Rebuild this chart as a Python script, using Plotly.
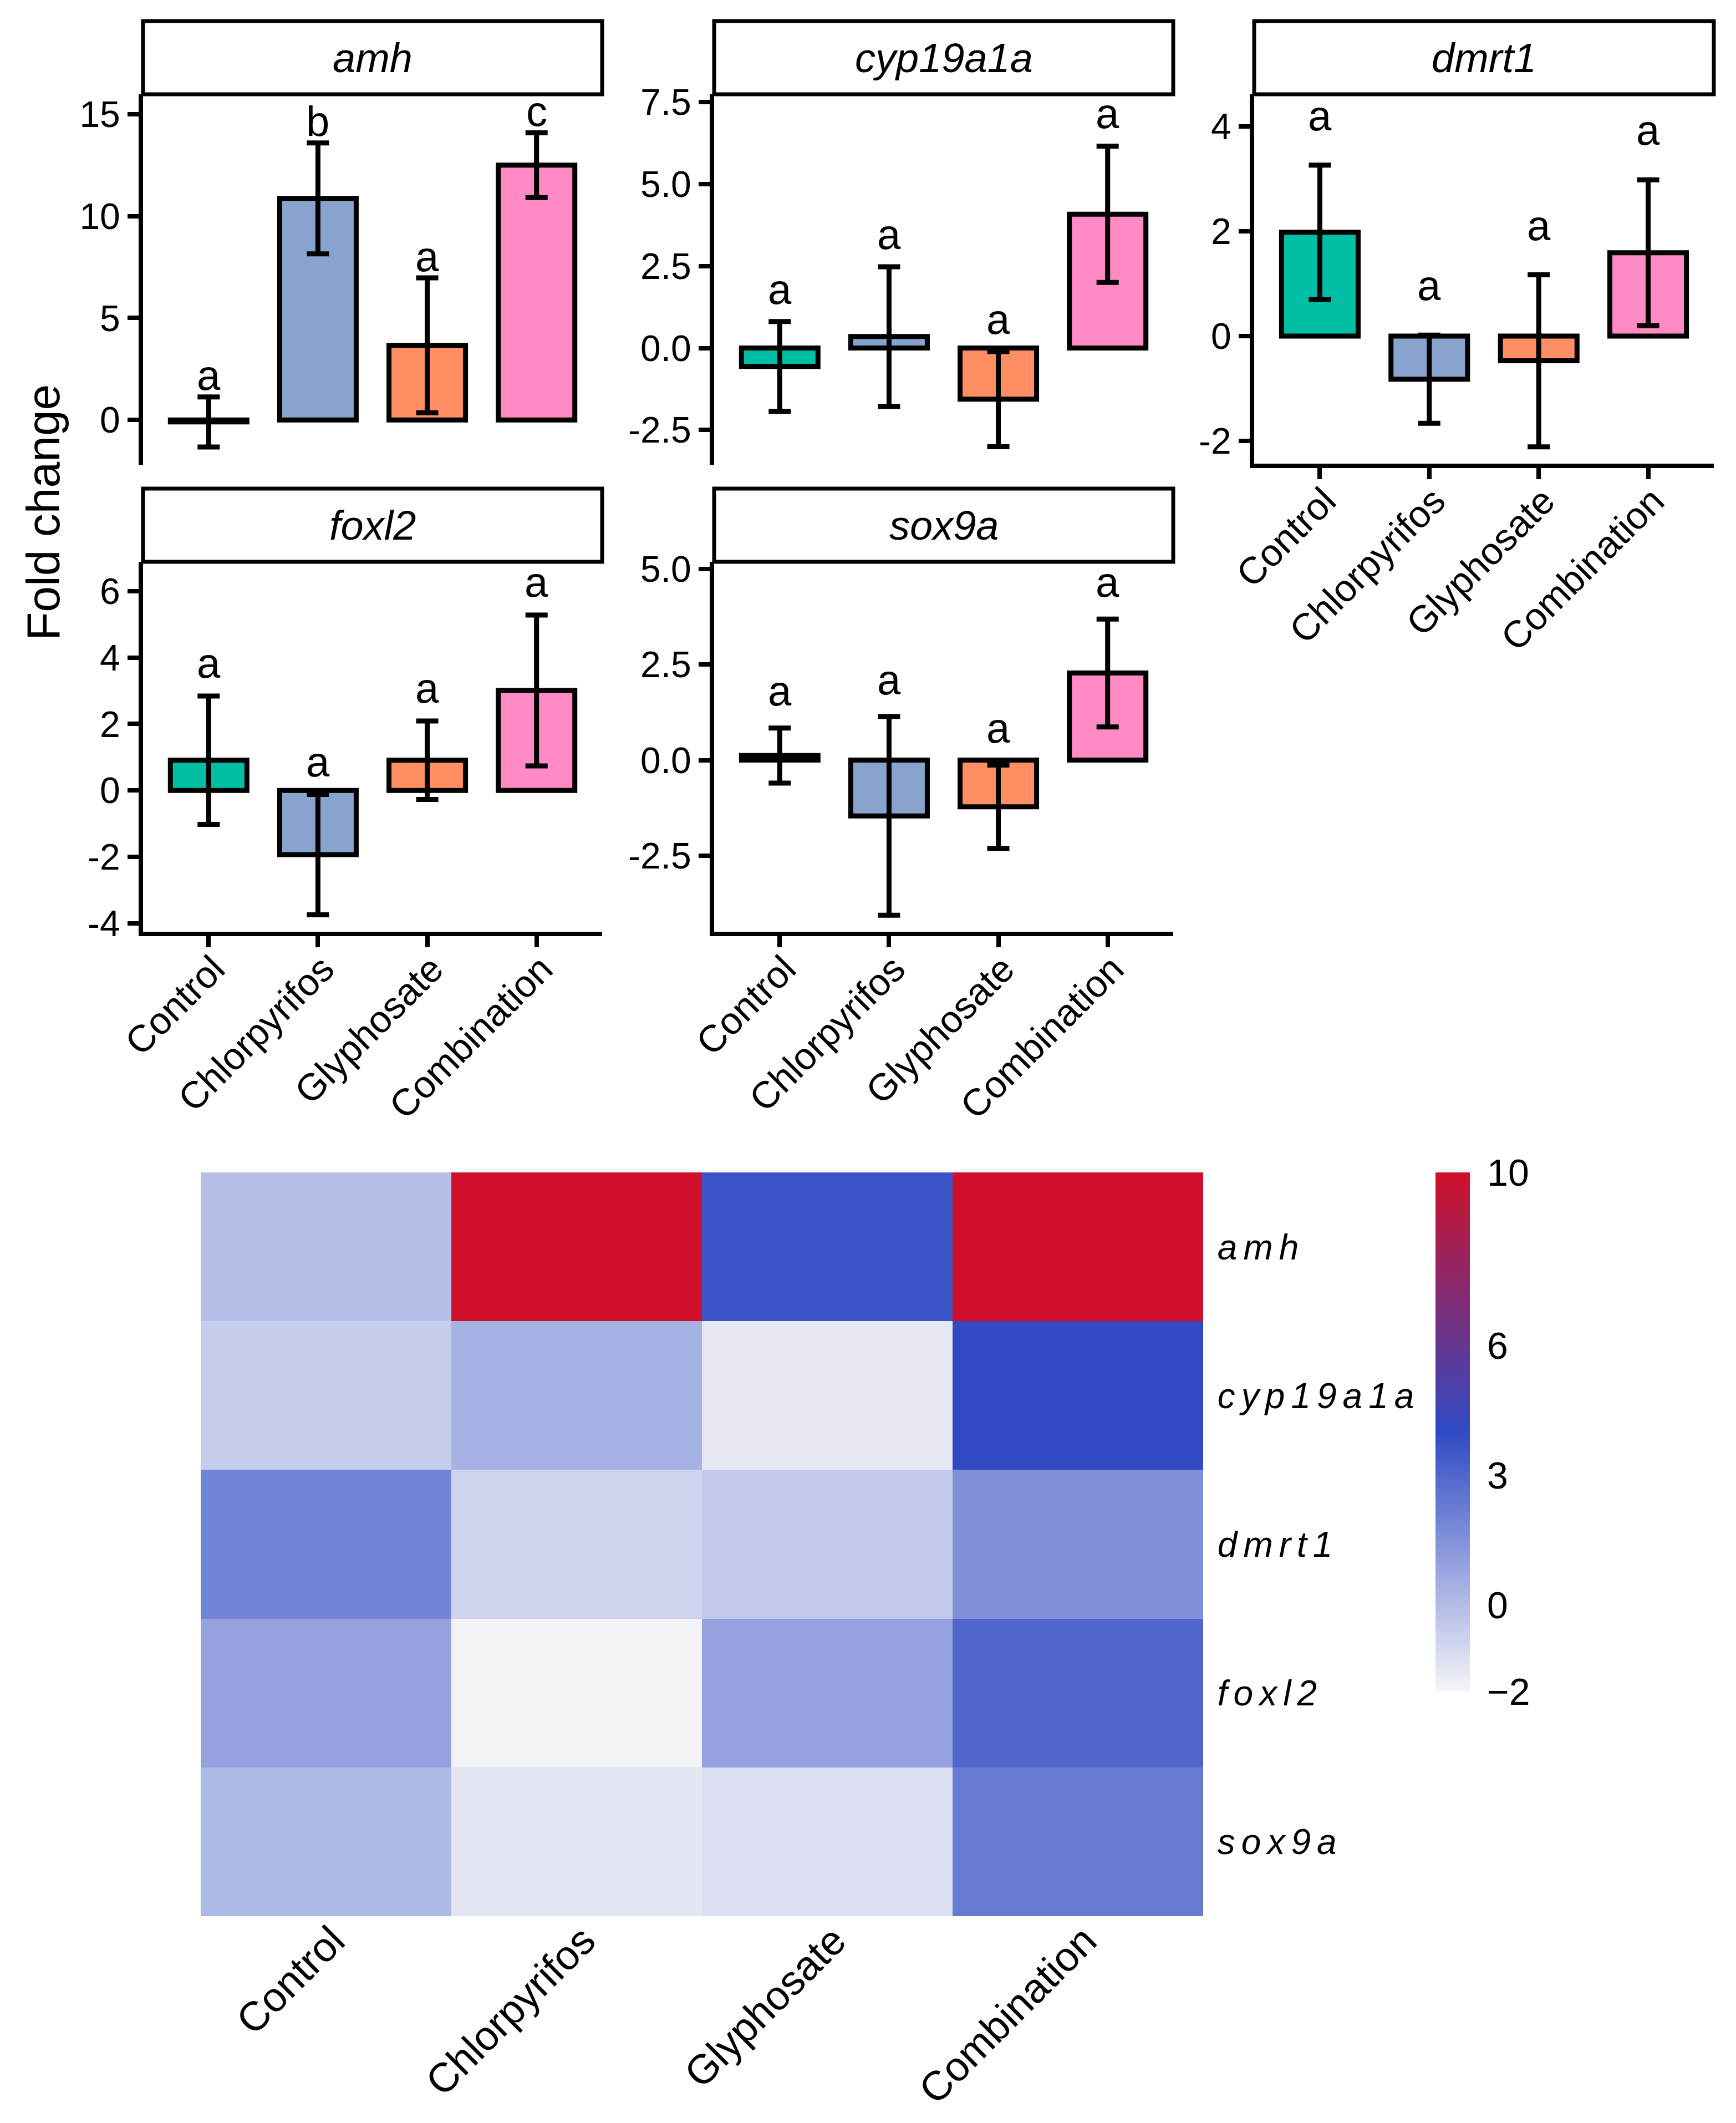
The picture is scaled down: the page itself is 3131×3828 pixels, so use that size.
import plotly.graph_objects as go

W, H = 3131, 3828
OFF = 8  # page body margin, positions below are page pixels
FONT = "Liberation Sans, Arial, Helvetica, sans-serif"

groups = ["Control", "Chlorpyrifos", "Glyphosate", "Combination"]
genes = ["amh", "cyp19a1a", "dmrt1", "foxl2", "sox9a"]

# mean fold change and sd per group
amh_mean = [-0.1, 10.87, 3.66, 12.5]
amh_sd = [1.23, 2.72, 3.31, 1.59]
cyp19a1a_mean = [-0.56, 0.35, -1.56, 4.08]
cyp19a1a_sd = [1.37, 2.13, 1.45, 2.08]
dmrt1_mean = [1.98, -0.82, -0.47, 1.59]
dmrt1_sd = [1.28, 0.84, 1.64, 1.39]
foxl2_mean = [0.91, -1.93, 0.91, 3.01]
foxl2_sd = [1.93, 1.81, 1.18, 2.27]
sox9a_mean = [0.12, -1.46, -1.22, 2.28]
sox9a_sd = [0.72, 2.6, 1.09, 1.41]

amh_letters = ["a", "b", "a", "c"]
other_letters = ["a", "a", "a", "a"]

means = {"amh": amh_mean, "cyp19a1a": cyp19a1a_mean, "dmrt1": dmrt1_mean,
         "foxl2": foxl2_mean, "sox9a": sox9a_mean}
sds = {"amh": amh_sd, "cyp19a1a": cyp19a1a_sd, "dmrt1": dmrt1_sd,
       "foxl2": foxl2_sd, "sox9a": sox9a_sd}
letters = {"amh": amh_letters, "cyp19a1a": other_letters, "dmrt1": other_letters,
           "foxl2": other_letters, "sox9a": other_letters}

yticks = {
    "amh": ([0, 5, 10, 15], ["0", "5", "10", "15"]),
    "cyp19a1a": ([-2.5, 0, 2.5, 5, 7.5], ["-2.5", "0.0", "2.5", "5.0", "7.5"]),
    "dmrt1": ([-2, 0, 2, 4], ["-2", "0", "2", "4"]),
    "foxl2": ([-4, -2, 0, 2, 4, 6], ["-4", "-2", "0", "2", "4", "6"]),
    "sox9a": ([-2.5, 0, 2.5, 5], ["-2.5", "0.0", "2.5", "5.0"]),
}
yranges = {"amh": [-2.2, 15.98], "cyp19a1a": [-3.56, 7.74], "dmrt1": [-2.43, 4.61],
           "foxl2": [-4.25, 6.88], "sox9a": [-4.49, 5.19]}

bar_colors = ["#00BFA4", "#88A4CE", "#FF8F62", "#FF8AC4"]


def fx(px):
    return (px - OFF) / W


def fy(py):
    return 1 - (py - OFF) / H


# panel boxes in px: left, right, top (under strip), bottom
panels = {
    "amh": (258, 1086, 170, 838),
    "cyp19a1a": (1288, 2116, 170, 838),
    "dmrt1": (2262, 3091, 170, 836),
    "foxl2": (258, 1086, 1013, 1680),
    "sox9a": (1288, 2116, 1013, 1680),
}
strip_h = 132
letter_pad = 0.87

fig = go.Figure()
axes = {}
shapes = []
annots = []

for i, g in enumerate(genes):
    n = "" if i == 0 else str(i + 1)
    l, r, t, b = panels[g]
    fig.add_trace(go.Bar(
        x=groups, y=means[g], width=0.7,
        marker=dict(color=bar_colors, line=dict(color="black", width=9)),
        error_y=dict(type="data", array=sds[g], color="black", thickness=9, width=20),
        xaxis="x" + n, yaxis="y" + n, showlegend=False,
    ))
    show_x = g in ("dmrt1", "foxl2", "sox9a")
    axes["xaxis" + n] = dict(
        domain=[fx(l), fx(r)], anchor="y" + n, type="category", range=[-0.6, 3.6],
        showline=show_x, linewidth=8, linecolor="black",
        ticks="outside" if show_x else "", ticklen=20, tickwidth=8, tickcolor="black",
        showticklabels=show_x, tickangle=-45, ticklabelstandoff=-28, ticklabelshift=9,
        tickfont=dict(size=68, color="black", family=FONT),
        showgrid=False, zeroline=False, automargin=False,
    )
    tv, tt = yticks[g]
    axes["yaxis" + n] = dict(
        domain=[fy(b), fy(t)], anchor="x" + n, range=yranges[g],
        tickvals=tv, ticktext=tt, showline=True, linewidth=8, linecolor="black",
        ticks="outside", ticklen=20, tickwidth=8, tickcolor="black",
        tickfont=dict(size=66, color="black", family=FONT),
        showgrid=False, zeroline=False, automargin=False,
    )
    # facet strip
    shapes.append(dict(type="rect", xref="paper", yref="paper",
                       x0=fx(l), x1=fx(r), y0=fy(t), y1=fy(t - strip_h),
                       line=dict(color="black", width=7), fillcolor="white"))
    annots.append(dict(xref="paper", yref="paper", x=fx((l + r) / 2),
                       y=fy(t - strip_h / 2), text="<i>" + g + "</i>",
                       showarrow=False, xanchor="center", yanchor="middle",
                       font=dict(size=74, color="black", family=FONT)))
    for grp, m, s, let in zip(groups, means[g], sds[g], letters[g]):
        annots.append(dict(xref="x" + n, yref="y" + n, x=grp, y=m + s + letter_pad,
                           text=let, showarrow=False, yanchor="middle", yshift=7,
                           font=dict(size=76, color="black", family=FONT)))

annots.append(dict(xref="paper", yref="paper", x=fx(78), y=fy(924),
                   text="Fold change", textangle=-90, showarrow=False,
                   xanchor="center", yanchor="middle",
                   font=dict(size=84, color="black", family=FONT)))

# heatmap of the mean values
fig.add_trace(go.Heatmap(
    z=[means[g] for g in genes], x=groups, y=genes,
    zmin=-2, zmax=10,
    colorscale=[[0, "#F5F5F8"], [0.5, "#2F4AC4"], [1, "#D0102A"]],
    xaxis="x6", yaxis="y6",
    colorbar=dict(
        x=fx(2589), xanchor="left", y=fy(2114), yanchor="top",
        len=936 / H, lenmode="fraction", thickness=62, thicknessmode="pixels",
        xpad=0, ypad=0, outlinewidth=0,
        tickvals=[-2, 0, 3, 6, 10], ticktext=["\u22122", "0", "3", "6", "10"],
        ticks="outside", ticklen=18, tickcolor="rgba(0,0,0,0)",
        tickfont=dict(size=68, color="black", family=FONT),
    ),
))
axes["xaxis6"] = dict(
    domain=[fx(362), fx(2170)], anchor="y6", tickangle=-45,
    ticks="", ticklabelstandoff=-15, ticklabelshift=12,
    tickfont=dict(size=74, color="black", family=FONT),
    showline=False, showgrid=False, zeroline=False, automargin=False,
)
axes["yaxis6"] = dict(
    domain=[fy(3455), fy(2114)], anchor="x6", side="right",
    autorange="reversed", tickvals=genes,
    ticktext=['<i><span style="letter-spacing:11px">' + g + "</span></i>" for g in genes],
    ticks="outside", ticklen=12, tickcolor="rgba(0,0,0,0)",
    tickfont=dict(size=64, color="black", family=FONT),
    showline=False, showgrid=False, zeroline=False, automargin=False,
)

fig.update_layout(
    width=W, height=H, margin=dict(l=0, r=0, t=0, b=0, autoexpand=False),
    paper_bgcolor="white", plot_bgcolor="white",
    font=dict(family=FONT, color="black"),
    shapes=shapes, annotations=annots, showlegend=False,
    **axes,
)

fig.write_html("out.html")
